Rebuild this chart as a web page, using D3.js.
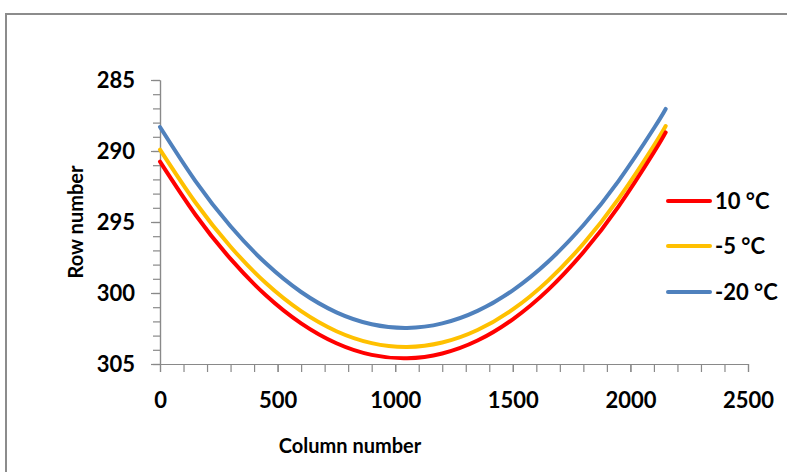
<!DOCTYPE html>
<html>
<head>
<meta charset="utf-8">
<script src="https://cdn.jsdelivr.net/npm/d3@7"></script>
<style>
  html, body { margin: 0; padding: 0; background: #fff; }
  svg { display: block; }
  text { font-family: Lato, "Liberation Sans", sans-serif; font-weight: bold; fill: #000; }
</style>
</head>
<body>
<svg id="chart" width="787" height="472"></svg>
<script>
// ---- data ----
const columns = [0, 150, 300, 450, 600, 750, 900, 1050, 1200, 1350, 1500, 1650, 1800, 1950, 2100, 2150];
const row10C  = [290.75, 294.47, 297.60, 300.16, 302.14, 303.54, 304.36, 304.60, 304.26, 303.35, 301.85, 299.78, 297.13, 293.90, 290.09, 288.69];
const rowM5C  = [289.90, 293.61, 296.74, 299.30, 301.28, 302.69, 303.53, 303.80, 303.49, 302.61, 301.16, 299.13, 296.53, 293.36, 289.62, 288.24];
const rowM20C = [288.31, 292.10, 295.30, 297.91, 299.93, 301.36, 302.20, 302.46, 302.14, 301.26, 299.81, 297.80, 295.23, 292.10, 288.40, 287.04];
const seriesNames = ["10 °C", "-5 °C", "-20 °C"];
const seriesColors = ["#FF0000", "#FFC000", "#4F81BD"];
const xTicks = [0, 500, 1000, 1500, 2000, 2500];
const yTicks = [285, 290, 295, 300, 305];
const xTitle = "Column number";
const yTitle = "Row number";

const svg = d3.select("#chart");

// outer chart frame
svg.append("rect")
  .attr("x", 6).attr("y", 14).attr("width", 900).attr("height", 600)
  .attr("fill", "none").attr("stroke", "#8c8c8c").attr("stroke-width", 2);

const x = d3.scaleLinear().domain([0, 2500]).range([160, 748]);
const y = d3.scaleLinear().domain([285, 305]).range([80, 364]);

const axisColor = "#898989";

// minor y ticks
const yMinor = svg.append("g").attr("transform", "translate(160,0)")
  .call(d3.axisLeft(y).tickValues(d3.range(285, 306, 1)).tickSize(7).tickSizeOuter(0).tickFormat(""));
// major y axis
const yAxis = svg.append("g").attr("transform", "translate(160,0)")
  .call(d3.axisLeft(y).tickValues(yTicks).tickSize(9).tickSizeOuter(0).tickPadding(16).tickFormat(d3.format("d")));

// minor x ticks
const xMinor = svg.append("g").attr("transform", "translate(0,364)")
  .call(d3.axisBottom(x).tickValues(d3.range(0, 2501, 100)).tickSize(8).tickSizeOuter(0).tickFormat(""));
// major x axis
const xAxis = svg.append("g").attr("transform", "translate(0,364)")
  .call(d3.axisBottom(x).tickValues(xTicks).tickSize(8).tickSizeOuter(0).tickPadding(20).tickFormat(d3.format("d")));

[yMinor, yAxis, xMinor, xAxis].forEach(g => {
  g.selectAll("path.domain").attr("stroke", axisColor).attr("stroke-width", 1.2);
  g.selectAll(".tick line").attr("stroke", axisColor).attr("stroke-width", 1.2);
  g.selectAll(".tick text").style("font-size", "22px").style("font-family", "Lato, 'Liberation Sans', sans-serif").style("font-weight", "bold").attr("fill", "#000");
});

// axis titles
svg.append("text")
  .attr("x", 350).attr("y", 453)
  .attr("text-anchor", "middle")
  .style("font-size", "20px")
  .text(xTitle);

svg.append("text")
  .attr("transform", "translate(83,222) rotate(-90)")
  .attr("text-anchor", "middle")
  .style("font-size", "20px")
  .text(yTitle);

// series
const seriesValues = [row10C, rowM5C, rowM20C];
const line = d3.line()
  .x(d => x(d[0]))
  .y(d => y(d[1]))
  .curve(d3.curveNatural);

const drawOrder = [2, 1, 0];
drawOrder.forEach(i => {
  const pts = columns.map((c, k) => [c, seriesValues[i][k]]);
  svg.append("path")
    .attr("d", line(pts))
    .attr("fill", "none")
    .attr("stroke", seriesColors[i])
    .attr("stroke-width", 4)
    .attr("stroke-linecap", "round");
});

// legend
const legendY = [201, 246, 292];
seriesNames.forEach((name, i) => {
  svg.append("line")
    .attr("x1", 668).attr("x2", 710)
    .attr("y1", legendY[i]).attr("y2", legendY[i])
    .attr("stroke", seriesColors[i])
    .attr("stroke-width", 4)
    .attr("stroke-linecap", "round");
  svg.append("text")
    .attr("x", 715).attr("y", legendY[i] + 8)
    .style("font-size", "22px")
    .text(name);
});
</script>
</body>
</html>
